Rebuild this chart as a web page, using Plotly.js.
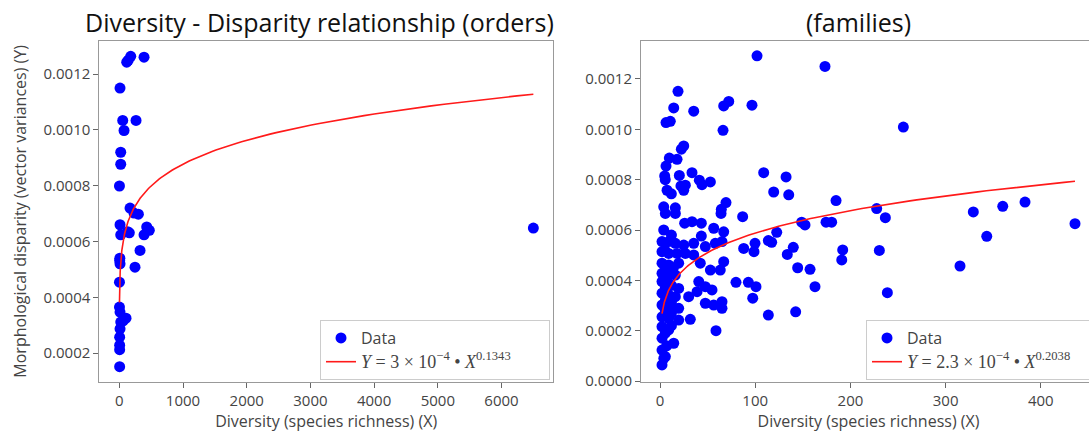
<!DOCTYPE html>
<html>
<head>
<meta charset="utf-8">
<script src="https://cdn.plot.ly/plotly-3.0.1.min.js"></script>
<style>
html,body{margin:0;padding:0;overflow:hidden;background:#fff;}
#chart{width:1100px;height:432px;}
</style>
</head>
<body>
<div id="chart"></div>
<script>
// ---- Orders (left panel) ----
const ordersX = [179,116,140,388,11,53,262,74,22,22,2,168,230,299,11,22,157,130,430,471,388,325,246,5,11,8,2,2,11,105,60,22,11,5,5,5,5,6500];
const ordersY = [0.001264,0.001243,0.00125,0.001261,0.00115,0.001034,0.001034,0.000998,0.00092,0.000877,0.000799,0.00072,0.000702,0.000698,0.00066,0.000624,0.000631,0.000635,0.000652,0.00064,0.000624,0.000568,0.000508,0.000532,0.00052,0.00054,0.000454,0.000365,0.000347,0.000325,0.000315,0.000311,0.000287,0.000257,0.000228,0.000212,0.000151,0.000648];
const ordersFitA = 3.47e-4, ordersFitB = 0.1343;
const ordersFitLabel = "<span style='font-family:Liberation Serif;font-size:18px'><i>Y</i> = 3 × 10<sup>−4</sup> • <i>X</i><sup>0.1343</sup></span>\u00a0\u00a0\u00a0\u00a0\u00a0\u00a0\u00a0\u00a0";

// ---- Families (right panel) ----
const familiesX = [101.9,173.3,18.9,14.4,35.4,66.9,72.2,96.6,6.3,10.8,66.2,255.6,24.9,22.4,9.8,17.9,6.3,4.9,5.5,20.3,33.6,41.3,52.9,44.1,22,26.6,7.4,11.9,24.9,108.9,132.4,119.4,135.2,184.9,3.9,16.1,69.3,64.4,86.8,5.6,16.1,64.1,227.6,236.7,174.4,180.3,148.8,152.3,122.6,113.8,117.3,99.8,98.7,87.9,140,133.7,191.9,190.9,230.4,144.6,157.6,162.8,79.8,92.8,100.8,97.4,113.8,142.5,58.8,238.8,329.1,343.2,360,383.4,435.9,315.1,25.9,33.6,43.4,56.4,66.9,43.4,3.9,2.1,9.1,16.1,24.9,35.4,47.6,58.1,65.1,2.1,9.1,17.9,26.6,35.4,2.1,9.1,19.6,42.3,66.9,52.9,63.3,2.1,9.1,16.1,2.1,9.1,19.6,40.7,47.6,54.6,30.1,38.9,47.6,56.4,65.1,65.1,2.1,9.1,16.1,2.1,9.1,19.6,2.1,9.1,19.6,31.8,2.1,9.1,2.1,14.4,2.1,5.6,2.1,4,5.6,5.6,12,12,5.6,12,14,5,12,5.6,12,5.6,7];
const familiesY = [0.001292,0.00125,0.001151,0.001085,0.001072,0.001093,0.001111,0.001096,0.001027,0.001032,0.000996,0.001009,0.000934,0.000921,0.000886,0.000881,0.000854,0.000815,0.0008,0.000817,0.000828,0.000798,0.000791,0.00078,0.000775,0.000778,0.000758,0.000744,0.000758,0.000828,0.000811,0.000751,0.00074,0.000717,0.000692,0.000688,0.000709,0.000682,0.000653,0.000666,0.000666,0.000666,0.000685,0.000649,0.000631,0.000631,0.000631,0.00062,0.000591,0.000558,0.000551,0.000547,0.000514,0.000527,0.000531,0.000503,0.000521,0.000481,0.000519,0.00045,0.000444,0.000375,0.000392,0.000392,0.000375,0.000329,0.000262,0.000275,0.0002,0.000351,0.000672,0.000575,0.000694,0.000711,0.000625,0.000457,0.000627,0.000633,0.000627,0.000607,0.000593,0.000576,0.0006,0.000554,0.000554,0.000547,0.00054,0.000547,0.000534,0.000547,0.000554,0.000514,0.000507,0.000507,0.000507,0.000501,0.000468,0.000461,0.000468,0.000468,0.000474,0.000441,0.000441,0.000428,0.000421,0.000421,0.000395,0.000388,0.000368,0.000395,0.000375,0.000362,0.000335,0.000355,0.000309,0.000302,0.000315,0.000289,0.000349,0.000342,0.000335,0.000302,0.000295,0.000289,0.000255,0.000249,0.000242,0.000245,0.000216,0.000203,0.00017,0.00015,0.000123,0.000097,0.000064,0.00009,0.00044,0.00037,0.00031,0.00027,0.00028,0.00038,0.00045,0.00052,0.00058,0.00032,0.00022,0.00019,0.00014];
const familiesFitA = 2.3e-4, familiesFitB = 0.2038;
const familiesFitLabel = "<span style='font-family:Liberation Serif;font-size:18px'><i>Y</i> = 2.3 × 10<sup>−4</sup> • <i>X</i><sup>0.2038</sup></span>\u00a0\u00a0\u00a0\u00a0\u00a0\u00a0\u00a0\u00a0";

const titleLeft = "Diversity - Disparity relationship (orders)";
const titleRight = "(families)";
const xTitle = "Diversity (species richness) (X)";
const yTitle = "Morphological disparity (vector variances) (Y)";

function fitCurve(xs, a, b) {
  const lo = Math.min(...xs), hi = Math.max(...xs);
  const n = 200, cx = [], cy = [];
  for (let i = 0; i <= n; i++) {
    const x = Math.exp(Math.log(lo) + (Math.log(hi) - Math.log(lo)) * i / n);
    cx.push(x); cy.push(a * Math.pow(x, b));
  }
  return [cx, cy];
}
const [ofx, ofy] = fitCurve(ordersX, ordersFitA, ordersFitB);
const [ffx, ffy] = fitCurve(familiesX, familiesFitA, familiesFitB);

const mk = {color: '#0000ff', size: 11};
const data = [
  {x: ordersX, y: ordersY, mode: 'markers', type: 'scatter', name: 'Data', marker: mk, xaxis: 'x', yaxis: 'y', legend: 'legend'},
  {x: ofx, y: ofy, mode: 'lines', type: 'scatter', name: ordersFitLabel, line: {color: '#ff1a1a', width: 1.6}, xaxis: 'x', yaxis: 'y', legend: 'legend'},
  {x: familiesX, y: familiesY, mode: 'markers', type: 'scatter', name: 'Data', marker: mk, xaxis: 'x2', yaxis: 'y2', legend: 'legend2'},
  {x: ffx, y: ffy, mode: 'lines', type: 'scatter', name: familiesFitLabel, line: {color: '#ff1a1a', width: 1.6}, xaxis: 'x2', yaxis: 'y2', legend: 'legend2'}
];

const axCommon = {
  showline: true, mirror: true, linecolor: '#999', linewidth: 1,
  showgrid: false, zeroline: false,
  ticks: 'outside', ticklen: 5, tickcolor: '#666',
  tickfont: {size: 15, color: '#444'}
};
const axTitleFont = {size: 16, color: '#444'};
const legCommon = {
  bgcolor: 'rgba(255,255,255,0.9)', bordercolor: '#ccc', borderwidth: 1,
  font: {size: 16, color: '#444'}, xanchor: 'left', yanchor: 'top', tracegroupgap: 0
};

const layout = {
  width: 1100, height: 432,
  margin: {l: 0, r: 0, t: 0, b: 0, autoexpand: false},
  paper_bgcolor: '#fff', plot_bgcolor: '#fff',
  font: {family: 'Open Sans', size: 14, color: '#444'},
  showlegend: true,
  xaxis: Object.assign({}, axCommon, {domain: [0.0903, 0.5027], range: [-314, 6808], tick0: 0, dtick: 1000, anchor: 'y',
    title: {text: xTitle, font: axTitleFont, standoff: 7}}),
  yaxis: Object.assign({}, axCommon, {domain: [0.1164, 0.9051], range: [0.0000971, 0.001319], tick0: 0, dtick: 0.0002, tickformat: '.4f', anchor: 'x',
    title: {text: yTitle, font: axTitleFont, standoff: 12}}),
  xaxis2: Object.assign({}, axCommon, {domain: [0.5827, 0.9964], range: [-20, 458], tick0: 0, dtick: 100, anchor: 'y2',
    title: {text: xTitle, font: axTitleFont, standoff: 7}}),
  yaxis2: Object.assign({}, axCommon, {domain: [0.1164, 0.9051], range: [-0.0000028, 0.001351], tick0: 0, dtick: 0.0002, tickformat: '.4f', anchor: 'x2'}),
  legend: Object.assign({}, legCommon, {x: 320/1100, y: (432-320)/432}),
  legend2: Object.assign({}, legCommon, {x: 866/1100, y: (432-320)/432}),
  annotations: [
    {text: titleLeft, xref: 'paper', yref: 'paper', x: 319/1100, y: 1 - 22/432, xanchor: 'center', yanchor: 'middle', showarrow: false, font: {size: 25, color: '#111'}},
    {text: titleRight, xref: 'paper', yref: 'paper', x: 858/1100, y: 1 - 22/432, xanchor: 'center', yanchor: 'middle', showarrow: false, font: {size: 25, color: '#111'}}
  ]
};

Plotly.newPlot('chart', data, layout, {staticPlot: true, displayModeBar: false});
</script>
</body>
</html>
